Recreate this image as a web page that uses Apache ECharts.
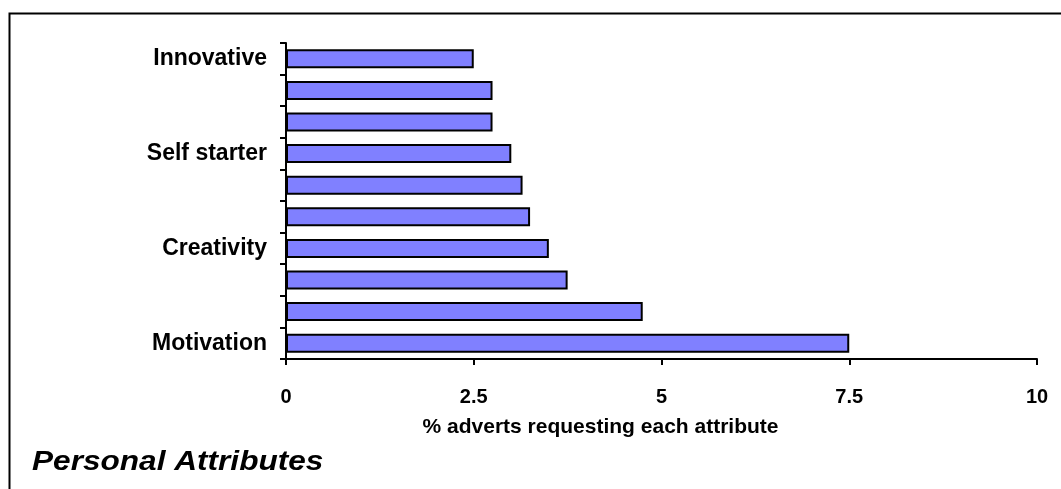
<!DOCTYPE html>
<html>
<head>
<meta charset="utf-8">
<script src="https://cdn.jsdelivr.net/npm/echarts@6/dist/echarts.min.js"></script>
<style>
  html, body { margin: 0; padding: 0; background: #fff; }
  #chart { width: 1061px; height: 489px; }
</style>
</head>
<body>
<div id="chart"></div>
<script>
// Attributes listed from the bottom bar to the top bar
const attributes = [
  'Motivation', 'Attribute 2', 'Attribute 3', 'Creativity', 'Attribute 5',
  'Attribute 6', 'Self starter', 'Attribute 8', 'Attribute 9', 'Innovative'
];
// Share of adverts (%) requesting each attribute
const shares = [7.5, 4.75, 3.75, 3.5, 3.25, 3.15, 3.0, 2.75, 2.75, 2.5];
// Category positions that carry a printed label
const labelledIndices = [0, 3, 6, 9];
const xTicks = [0, 2.5, 5, 7.5, 10];

const FONT = '"Liberation Sans", Arial, sans-serif';
const chart = echarts.init(document.getElementById('chart'), null, { renderer: 'canvas' });

chart.setOption({
  animation: false,
  backgroundColor: '#ffffff',
  grid: { left: 286, right: 24, top: 43, bottom: 130, containLabel: false },
  graphic: [
    {
      type: 'rect',
      left: 7, top: 11,
      shape: { width: 1100, height: 520 },
      style: { fill: 'none', stroke: '#000', lineWidth: 2 },
      silent: true
    },
    {
      type: 'text',
      x: 32, y: 449,
      scaleX: 1.17,
      style: {
        text: 'Personal Attributes',
        font: 'italic bold 27px ' + FONT,
        fill: '#000'
      }
    }
  ],
  xAxis: {
    type: 'value',
    min: xTicks[0],
    max: xTicks[xTicks.length - 1],
    interval: 2.5,
    name: '% adverts requesting each attribute',
    nameLocation: 'middle',
    nameGap: 58,
    nameTextStyle: {
      fontFamily: FONT, fontWeight: 'bold', fontSize: 21, color: '#000',
      padding: [0, 122, 0, 0]
    },
    axisLine: { show: true, lineStyle: { color: '#000', width: 2 } },
    axisTick: { show: true, length: 6, lineStyle: { color: '#000', width: 2 } },
    axisLabel: {
      margin: 28,
      fontFamily: FONT, fontWeight: 'bold', fontSize: 20, color: '#000',
      formatter: v => String(v)
    },
    splitLine: { show: false }
  },
  yAxis: {
    type: 'category',
    data: attributes,
    axisLine: { show: true, lineStyle: { color: '#000', width: 2 } },
    axisTick: { show: true, length: 6, alignWithLabel: false, interval: 0, lineStyle: { color: '#000', width: 2 } },
    axisLabel: {
      interval: (i) => labelledIndices.includes(i),
      margin: 19,
      padding: [9, 0, 0, 0],
      fontFamily: FONT, fontWeight: 'bold', fontSize: 23, color: '#000'
    }
  },
  series: [{
    type: 'bar',
    data: shares,
    barWidth: 19,
    itemStyle: { color: '#8080FF', borderColor: '#000', borderWidth: 2 },
    silent: true
  }]
});
</script>
</body>
</html>
